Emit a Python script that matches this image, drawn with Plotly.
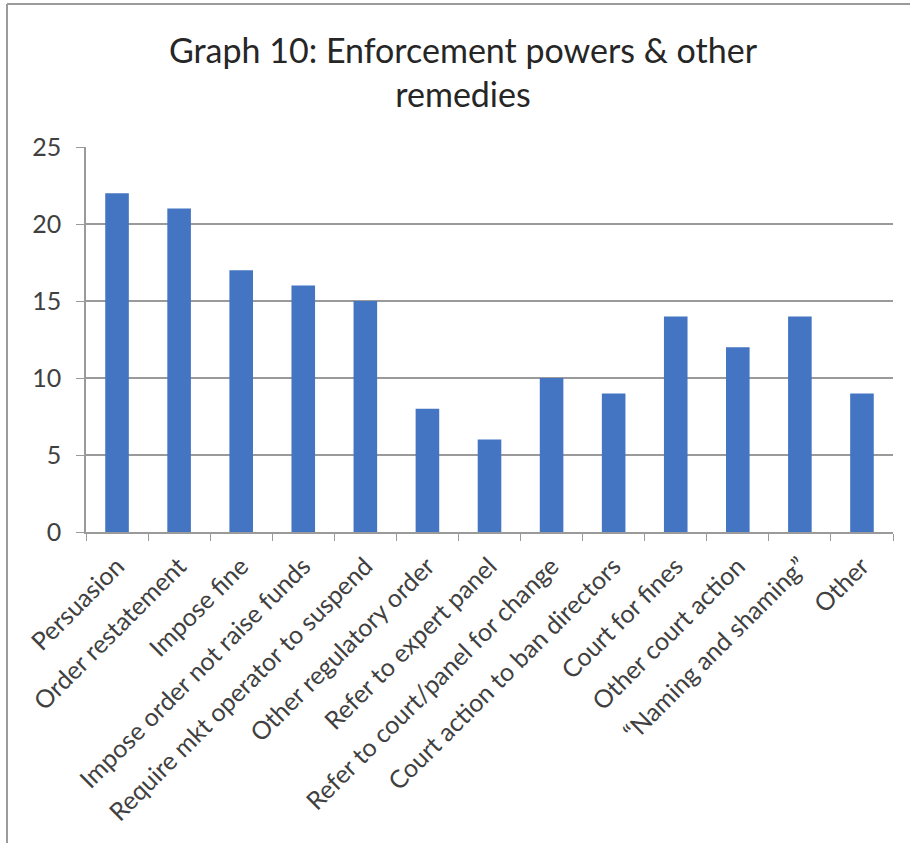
import plotly.graph_objects as go

categories = [
    "Persuasion",
    "Order restatement",
    "Impose fine",
    "Impose order not raise funds",
    "Require mkt operator to suspend",
    "Other regulatory order",
    "Refer to expert panel",
    "Refer to court/panel for change",
    "Court action to ban directors",
    "Court for fines",
    "Other court action",
    "\u201cNaming and shaming\u201d",
    "Other",
]
counts = [22, 21, 17, 16, 15, 8, 6, 10, 9, 14, 12, 14, 9]
y_ticks = [0, 5, 10, 15, 20, 25]

W, H = 910, 843
ML, MR, MT, MB = 86, 17, 147, 311
PW, PH = W - ML - MR, H - MT - MB

FONT = "Lato, Calibri, Carlito, sans-serif"
TEXT = "#404040"
GRID = "#9a9a9a"
BAR = "#4375C2"


def px_x(x):
    return (x - ML) / PW


def px_y(y):
    return 1 - (y - MT) / PH


fig = go.Figure(
    go.Bar(
        x=categories,
        y=counts,
        marker=dict(color=BAR, line=dict(width=0)),
    )
)

fig.update_layout(
    width=W,
    height=H,
    margin=dict(l=ML, r=MR, t=MT, b=MB),
    paper_bgcolor="white",
    plot_bgcolor="white",
    bargap=0.62,
    showlegend=False,
    font=dict(family=FONT, color=TEXT),
    title=dict(
        text="Graph 10: Enforcement powers & other<br>remedies",
        font=dict(family=FONT, size=34, color="#262626"),
        x=463 / W,
        xanchor="center",
        y=1 - 63 / H,
        yanchor="middle",
    ),
    shapes=[
        # chart frame (top and left edges)
        dict(type="line", xref="paper", yref="paper",
             x0=px_x(7), x1=px_x(912), y0=px_y(4), y1=px_y(4),
             line=dict(color="#9b9b9b", width=2)),
        dict(type="line", xref="paper", yref="paper",
             x0=px_x(7), x1=px_x(7), y0=px_y(4), y1=px_y(845),
             line=dict(color="#9b9b9b", width=2)),
    ],
)

fig.update_xaxes(
    type="category",
    tickangle=-45,
    tickfont=dict(family=FONT, size=25, color=TEXT),
    showline=True,
    linecolor=GRID,
    linewidth=1.5,
    ticks="outside",
    tickson="boundaries",
    ticklen=7,
    tickcolor=GRID,
    ticklabelstandoff=8,
    showgrid=False,
)

fig.update_yaxes(
    range=[0, 25],
    tickvals=y_ticks,
    tickfont=dict(family=FONT, size=25, color=TEXT),
    showline=True,
    linecolor=GRID,
    linewidth=1.5,
    ticks="outside",
    ticklen=8,
    tickcolor=GRID,
    ticklabelstandoff=10,
    showgrid=True,
    gridcolor=GRID,
    gridwidth=1.5,
    zeroline=False,
)

fig.write_html("out.html")
